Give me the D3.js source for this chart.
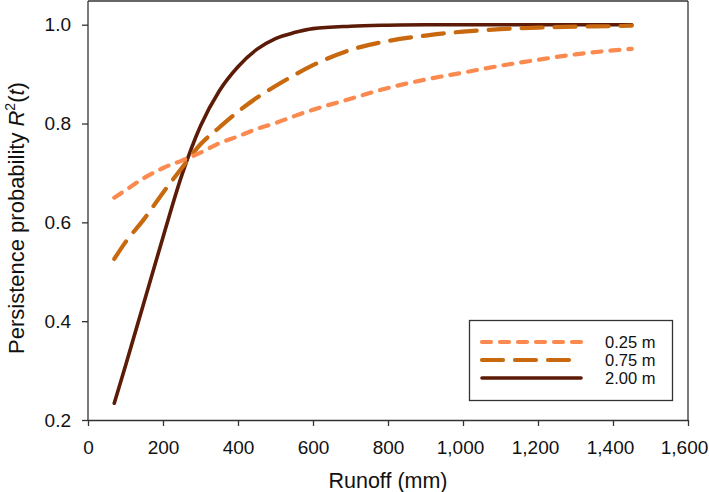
<!DOCTYPE html>
<html>
<head>
<meta charset="utf-8">
<script src="https://cdn.jsdelivr.net/npm/d3@7"></script>
<style>
  html, body { margin: 0; padding: 0; background: #fff; }
  svg { display: block; font-family: "Liberation Sans", Arial, sans-serif; }
</style>
</head>
<body>
<svg id="chart" width="709" height="492"></svg>
<script>
// ---- Data ----
const runoff = [70, 100, 150, 200, 250, 300, 350, 400, 450, 500, 550, 600, 700, 800, 900, 1000, 1100, 1200, 1300, 1400, 1450];
const r025 = [0.650, 0.665, 0.690, 0.710, 0.725, 0.741, 0.760, 0.774, 0.789, 0.801, 0.815, 0.828, 0.850, 0.872, 0.889, 0.903, 0.917, 0.929, 0.940, 0.948, 0.951];
const r075 = [0.526, 0.560, 0.607, 0.660, 0.710, 0.758, 0.792, 0.824, 0.852, 0.876, 0.898, 0.918, 0.949, 0.967, 0.978, 0.986, 0.991, 0.994, 0.996, 0.997, 0.998];
const r200 = [0.234, 0.310, 0.440, 0.570, 0.695, 0.795, 0.866, 0.915, 0.950, 0.972, 0.984, 0.992, 0.997, 0.999, 1.000, 1.000, 1.000, 1.000, 1.000, 1.000, 1.000];
const seriesNames = ["0.25 m", "0.75 m", "2.00 m"];
const xTicks = [0, 200, 400, 600, 800, 1000, 1200, 1400, 1600];
const yTicks = [0.2, 0.4, 0.6, 0.8, 1.0];

// ---- Styles ----
const colors = ["#fb8a50", "#c8690f", "#5c1b06"];
const dashes = ["9,9", "21,12", null];
const widths = [4.2, 4.2, 3.6];

const svg = d3.select("#chart");
const margin = { left: 88, right: 21, top: 0, bottom: 72 };
const W = 709, H = 492;
const x = d3.scaleLinear().domain([0, 1600]).range([margin.left, W - margin.right]);
const y = d3.scaleLinear().domain([0.2, 1.05]).range([H - margin.bottom, margin.top]);

const axisColor = "#333";

// box (top & right)
svg.append("line").attr("x1", x(0)).attr("x2", x(1600)).attr("y1", 1).attr("y2", 1)
  .attr("stroke", axisColor).attr("stroke-width", 1.3);
svg.append("line").attr("x1", x(1600)).attr("x2", x(1600)).attr("y1", 1).attr("y2", y(0.2))
  .attr("stroke", axisColor).attr("stroke-width", 1.3);

// axes
const fmtX = d3.format(",");
const xAxis = svg.append("g").attr("transform", `translate(0,${y(0.2)})`)
  .call(d3.axisBottom(x).tickValues(xTicks).tickFormat(fmtX).tickSize(6).tickSizeOuter(0).tickPadding(15));
const yAxis = svg.append("g").attr("transform", `translate(${x(0)},0)`)
  .call(d3.axisLeft(y).tickValues(yTicks).tickFormat(d3.format(".1f")).tickSize(6).tickSizeOuter(0).tickPadding(11));
yAxis.select(".domain").attr("d", `M0,1V${y(0.2)}`);
[xAxis, yAxis].forEach(g => {
  g.select(".domain").attr("stroke", axisColor).attr("stroke-width", 1.3);
  g.selectAll(".tick line").attr("stroke", axisColor).attr("stroke-width", 1.3);
  g.selectAll(".tick text").attr("fill", "#111").style("font-size", "19px")
    .style("font-family", '"Liberation Sans", Arial, sans-serif');
});
xAxis.selectAll(".tick text").attr("dx", d => d >= 1600 ? -4 : (d >= 1000 ? -3 : 0));

// axis titles
svg.append("text").attr("x", (x(0) + x(1600)) / 2).attr("y", 488)
  .attr("text-anchor", "middle").style("font-size", "21.5px").attr("fill", "#111")
  .text("Runoff (mm)");
const yt = svg.append("text")
  .attr("transform", `translate(24,218) rotate(-90)`)
  .attr("text-anchor", "middle").style("font-size", "22px").attr("fill", "#111");
yt.append("tspan").text("Persistence probability ");
yt.append("tspan").attr("font-style", "italic").text("R");
yt.append("tspan").attr("dy", -9).style("font-size", "14px").text("2");
yt.append("tspan").attr("dy", 9).text("(");
yt.append("tspan").attr("font-style", "italic").text("t");
yt.append("tspan").text(")");

// lines
const allSeries = [r025, r075, r200];
const line = d3.line().x(d => x(d[0])).y(d => y(d[1])).curve(d3.curveMonotoneX);
const drawOrder = [2, 1, 0];
drawOrder.forEach(i => {
  svg.append("path")
    .datum(runoff.map((r, k) => [r, allSeries[i][k]]))
    .attr("d", line)
    .attr("fill", "none")
    .attr("stroke", colors[i])
    .attr("stroke-width", widths[i])
    .attr("stroke-linecap", "round")
    .attr("stroke-dasharray", dashes[i]);
});

// legend
const lg = svg.append("g");
lg.append("rect").attr("x", 469.5).attr("y", 320.5).attr("width", 203).attr("height", 80)
  .attr("fill", "#fff").attr("stroke", axisColor).attr("stroke-width", 1.3);
seriesNames.forEach((name, i) => {
  const ly = 342 + i * 18;
  lg.append("line").attr("x1", 482).attr("x2", 581).attr("y1", ly).attr("y2", ly)
    .attr("stroke", colors[i]).attr("stroke-width", widths[i])
    .attr("stroke-linecap", "round").attr("stroke-dasharray", dashes[i]);
  lg.append("text").attr("x", 605).attr("y", ly + 6).style("font-size", "16.5px")
    .attr("fill", "#111").text(name);
});
</script>
</body>
</html>
